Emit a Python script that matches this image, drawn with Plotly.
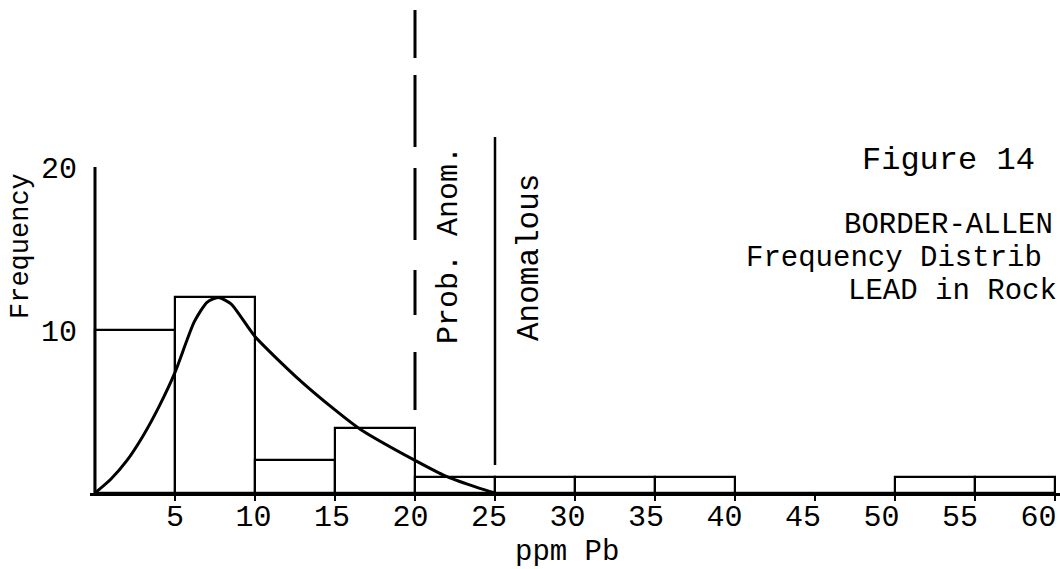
import plotly.graph_objects as go

# ---- data ----
bin_left = [0, 5, 10, 15, 20, 25, 30, 35, 40, 45, 50, 55]
bin_width = 5
counts = [10, 12, 2, 4, 1, 1, 1, 1, 0, 0, 1, 1]

curve_x = [0, 1, 2, 3, 4, 5, 6.2, 7, 7.7, 8.5, 10, 12.6, 15, 16.6, 20, 22, 24, 25]
curve_y = [0, 0.86, 2.0, 3.5, 5.3, 7.4, 10.5, 11.7, 12.0, 11.6, 9.6, 7.1, 5.1, 3.9, 2.0, 1.0, 0.3, 0]

x_ticks = [5, 10, 15, 20, 25, 30, 35, 40, 45, 50, 55, 60]
y_ticks = [10, 20]
prob_anom_at = 20
anomalous_at = 25

FONT = "Liberation Mono, Courier New, monospace"

W, H = 1060, 569
# pixel helpers (layout only)
PX0, PXU = 95, 16.0     # x=0 pixel, px per unit
PY0, PYU = 493, 16.3    # y=0 pixel, px per unit
ML, MT = 90, 10
MB = H - PY0
PW, PH = W - ML, PY0 - MT

def dx(px):
    return (px - PX0) / PXU
def dy(py):
    return (PY0 - py) / PYU
def paper_x(px):
    return (px - ML) / PW
def paper_y(py):
    return (PY0 - py) / PH

fig = go.Figure()

fig.add_trace(go.Bar(
    x=bin_left, y=counts, width=bin_width, offset=0,
    marker=dict(color="rgba(0,0,0,0)", line=dict(color="black", width=2.2)),
    showlegend=False, hoverinfo="skip"))

fig.add_trace(go.Scatter(
    x=curve_x, y=curve_y, mode="lines",
    line=dict(color="black", width=3, shape="spline", smoothing=0.6),
    showlegend=False, hoverinfo="skip"))

shapes = []
# y-axis line from 0 to 20
shapes.append(dict(type="line", xref="x", yref="y", x0=0, x1=0, y0=0, y1=y_ticks[-1],
                   line=dict(color="black", width=3), layer="above"))
# dashed "Prob. Anom." boundary
shapes.append(dict(type="line", xref="x", yref="y", x0=prob_anom_at, x1=prob_anom_at,
                   y0=dy(10), y1=dy(410),
                   line=dict(color="black", width=3,
                             dash="48px,17px,72px,21px,72px,30px,45px,37px,58px,200px")))
# solid "Anomalous" boundary
shapes.append(dict(type="line", xref="x", yref="y", x0=anomalous_at, x1=anomalous_at,
                   y0=dy(137), y1=dy(465),
                   line=dict(color="black", width=2.5)))

annotations = []
def text(s, px, py, size, angle=0, xanchor="left"):
    annotations.append(dict(text=s, x=paper_x(px), y=paper_y(py), xref="paper", yref="paper",
                            showarrow=False, xanchor=xanchor, yanchor="middle",
                            textangle=angle,
                            font=dict(family=FONT, size=size, color="black")))

text("Prob. Anom.", 449, 245, 30, angle=-90, xanchor="center")
text("Anomalous", 529, 258, 31, angle=-90, xanchor="center")
text("Frequency", 21, 246, 27, angle=-90, xanchor="center")
text("ppm Pb", 567, 552, 29, xanchor="center")
text("Figure 14", 860, 160, 32)
text("BORDER-ALLEN", 842, 225, 29)
text("Frequency Distrib", 744, 258, 29)
text("LEAD in Rock", 846, 291, 29)

# label axis: typed labels drift slightly left of the ticks (~15.7 px per unit from label 5 at px 175)
LPX0, LPXU = 96.5, 15.7
lab_range = [(ML - LPX0) / LPXU, (W - LPX0) / LPXU]

fig.update_layout(
    width=W, height=H,
    margin=dict(l=ML, r=0, t=MT, b=MB, pad=0),
    paper_bgcolor="white", plot_bgcolor="white",
    shapes=shapes, annotations=annotations,
    bargap=0,
    xaxis=dict(range=[dx(ML), dx(W)], tickvals=x_ticks, showticklabels=False,
               showline=True, linecolor="black", linewidth=2.5,
               ticks="outside", ticklen=5, tickwidth=2, tickcolor="black",
               showgrid=False, zeroline=False),
    xaxis2=dict(range=lab_range, overlaying="x", anchor="free", position=0, side="bottom",
                tickvals=x_ticks, ticktext=[str(v) for v in x_ticks],
                showline=False, ticks="", showgrid=False, zeroline=False,
                ticklabelstandoff=2,
                tickfont=dict(family=FONT, size=30, color="black")),
    yaxis=dict(range=[0, dy(MT)], tickvals=y_ticks, ticktext=[str(v) for v in y_ticks],
               showline=False, ticks="", showgrid=False, zeroline=False,
               ticklabelstandoff=12,
               tickfont=dict(family=FONT, size=30, color="black")),
)

# invisible trace to activate the label axis
fig.add_trace(go.Scatter(x=[x_ticks[0]], y=[0], xaxis="x2", mode="markers",
                         marker=dict(opacity=0), showlegend=False, hoverinfo="skip"))

fig.write_html("out.html")
